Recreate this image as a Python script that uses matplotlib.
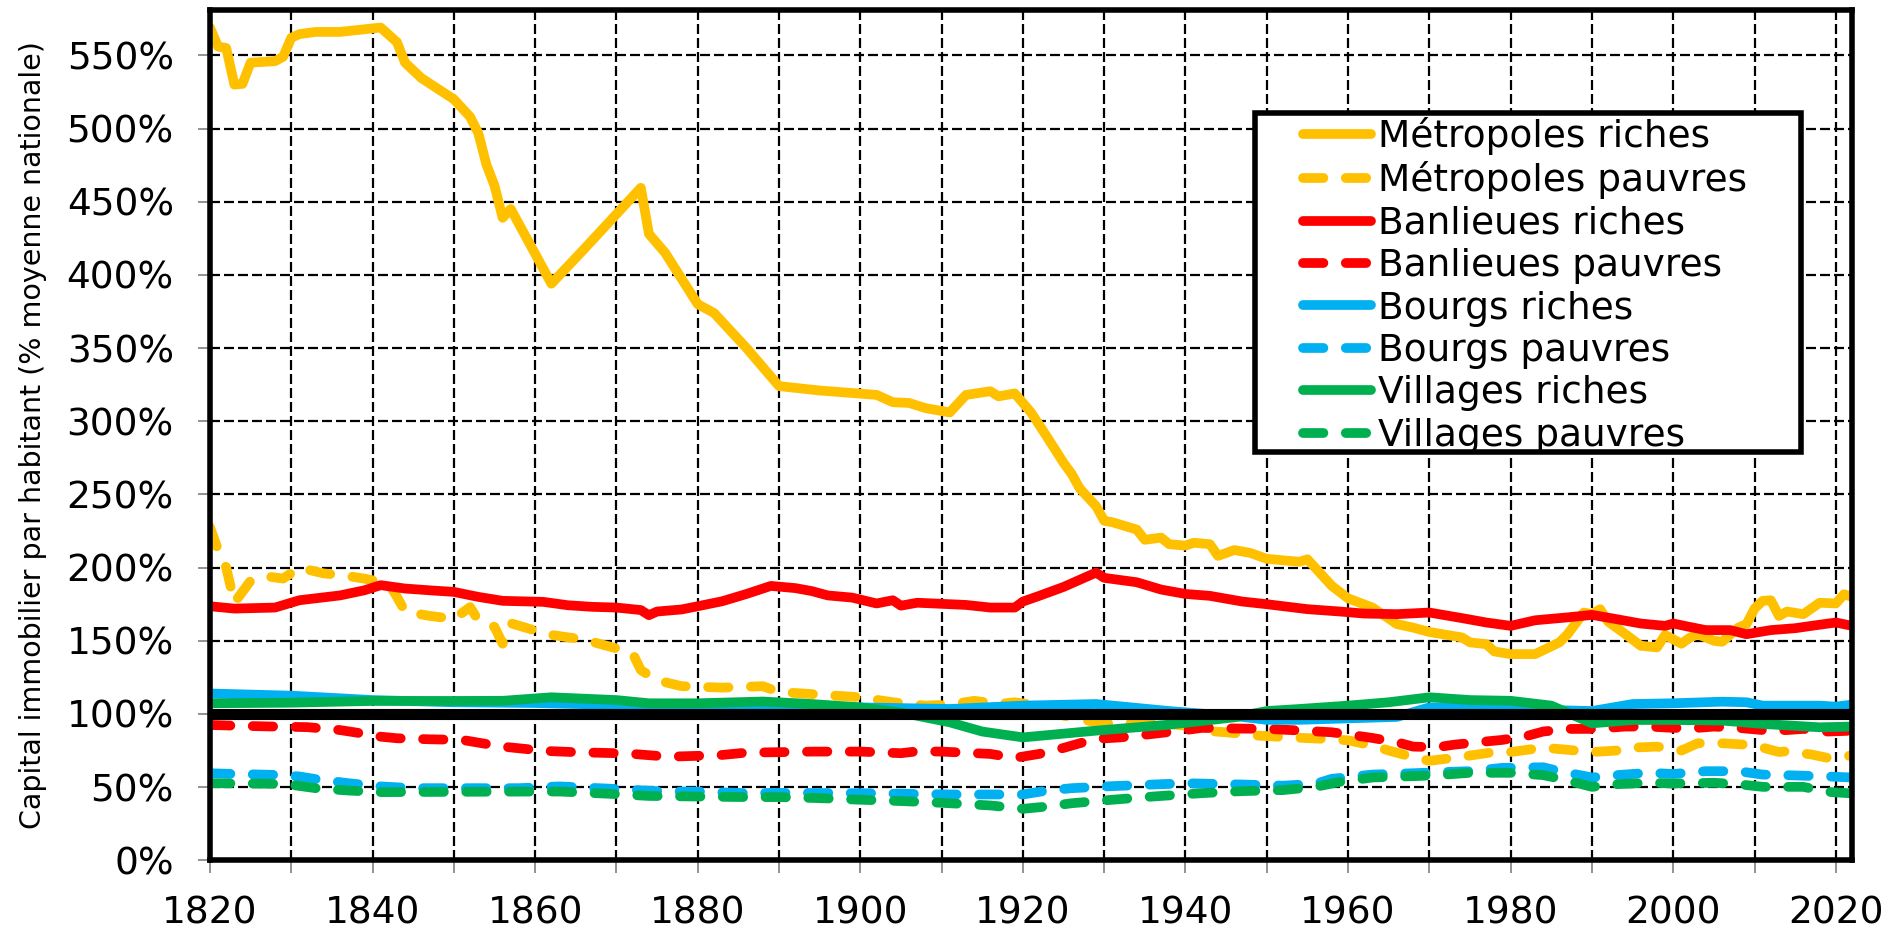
import matplotlib
matplotlib.use("Agg")
import matplotlib.pyplot as plt
from matplotlib.ticker import MultipleLocator, FuncFormatter
from matplotlib.patches import Rectangle

# Capital immobilier par habitant, % de la moyenne nationale
met_riches_years = [1820, 1821, 1822, 1823, 1824, 1825, 1828, 1829, 1830, 1831, 1833, 1836,
                    1841, 1843, 1844, 1846, 1850, 1851, 1852, 1853, 1854, 1855, 1856, 1857,
                    1862, 1866, 1873, 1874, 1876, 1880, 1882, 1886, 1890, 1895, 1902, 1904,
                    1906, 1908, 1911, 1913, 1916, 1917, 1919, 1921, 1923, 1925, 1926, 1927,
                    1929, 1930, 1931, 1934, 1935, 1937, 1938, 1940, 1941, 1943, 1944, 1946,
                    1948, 1950, 1954, 1955, 1958, 1960, 1963, 1966, 1968, 1970, 1974, 1975,
                    1977, 1978, 1980, 1983, 1986, 1987, 1989, 1990, 1991, 1992, 1994, 1996,
                    1998, 1999, 2001, 2002, 2003, 2005, 2006, 2008, 2009, 2010, 2011, 2012,
                    2013, 2014, 2016, 2018, 2020, 2021, 2022]
met_riches = [569, 556, 555, 530, 530.5, 545, 546, 549, 562, 564.5, 566, 566,
              569, 559, 545, 534.5, 520, 514, 508, 497, 475.5, 461, 439, 445,
              394, 417.5, 459.5, 428, 415, 380, 374, 350, 324, 321, 318, 313,
              312.5, 309, 306, 318, 320.5, 317, 319, 306, 289, 271.6, 264, 254,
              242, 232, 231, 226, 219, 220.5, 216, 215, 217, 216, 208, 212,
              210, 206, 204, 205.7, 187.5, 179, 172.7, 161.4, 159, 156, 152.3, 148.9,
              147.7, 142.7, 140.9, 140.9, 148.9, 154.5, 169.3, 168.2, 171.6, 163, 155, 146.6,
              145.5, 154, 148, 152, 154.5, 150, 149.3, 159, 161.4, 172, 177.3, 177.7,
              167, 170, 168.2, 176, 175.5, 181.8, 180]

met_pauvres_years = [1820, 1821, 1822, 1823, 1825, 1827, 1829, 1831, 1834, 1836, 1839, 1842,
                     1843, 1844, 1847, 1850, 1852, 1853, 1855, 1856, 1857, 1860, 1862, 1865,
                     1867, 1870, 1872, 1873, 1875, 1878, 1883, 1888, 1890, 1894, 1900, 1904,
                     1908, 1911, 1914, 1917, 1919, 1922, 1925, 1927, 1929, 1931, 1936, 1940,
                     1942, 1945, 1949, 1953, 1957, 1960, 1963, 1965, 1968, 1970, 1973, 1975,
                     1978, 1980, 1984, 1986, 1988, 1990, 1993, 1995, 1998, 2001, 2003, 2006,
                     2009, 2011, 2013, 2014, 2017, 2019, 2022]
met_pauvres = [227.7, 212, 200, 176, 191, 194, 192.5, 200, 196, 195, 192.5, 189,
               180, 170, 167, 165, 173, 164, 159.5, 148, 162, 157, 154, 151.6,
               149.3, 144.8, 141.4, 130, 123, 119, 118, 119, 115, 113.6, 111.4, 108,
               105.7, 106.4, 109, 106.8, 108, 105.7, 98.9, 96.6, 94.3, 93.2, 94.3, 92,
               88.6, 87.5, 85.2, 84, 83, 82, 78.4, 75, 70.5, 68, 70, 71.6,
               74, 74, 77, 76, 75, 74, 75, 77, 77.7, 75, 80, 80,
               79, 77, 74, 74.5, 72.3, 70, 71.6]

ban_riches_years = [1820, 1823, 1828, 1831, 1836, 1839, 1841, 1844, 1847, 1850, 1853, 1856,
                    1861, 1864, 1867, 1870, 1873, 1874, 1875, 1878, 1880, 1883, 1886, 1889,
                    1892, 1894, 1896, 1899, 1902, 1904, 1905, 1907, 1913, 1916, 1919, 1920,
                    1922, 1925, 1929, 1930, 1934, 1937, 1940, 1943, 1947, 1950, 1955, 1959,
                    1962, 1966, 1970, 1974, 1977, 1980, 1983, 1987, 1990, 1993, 1996, 1999,
                    2000, 2002, 2004, 2007, 2009, 2012, 2015, 2017, 2020, 2022]
ban_riches = [173.6, 172, 172.7, 177.7, 181, 184.5, 188, 185.7, 184.5, 183.4, 180, 177.3,
              176.6, 174.3, 173.2, 172.7, 171, 167.5, 170, 171.4, 173.6, 177, 182, 187.5,
              186, 184, 181, 179.5, 175.5, 177.7, 174, 176, 174.5, 172.7, 172.7, 176.8,
              180.7, 186.8, 196.6, 193, 190, 185, 182, 180.7, 176.8, 175, 171.6, 170,
              168.6, 168.2, 169.3, 165.5, 162.5, 160.2, 164, 166, 167.7, 164.8, 161.8, 160.2,
              161.8, 159.5, 157.3, 157.3, 154.5, 157.3, 158.6, 160.2, 162.5, 160.2]

ban_pauvres_years = [1820, 1823, 1828, 1832, 1836, 1838, 1841, 1843, 1847, 1851, 1854, 1856,
                     1859, 1861, 1865, 1870, 1872, 1875, 1877, 1880, 1883, 1886, 1890, 1894,
                     1900, 1905, 1907, 1910, 1916, 1919, 1922, 1925, 1927, 1929, 1932, 1936,
                     1940, 1942, 1947, 1950, 1953, 1958, 1961, 1963, 1966, 1968, 1971, 1973,
                     1976, 1979, 1982, 1984, 1987, 1990, 1992, 1994, 1997, 2000, 2003, 2005,
                     2008, 2011, 2014, 2016, 2019, 2022]
ban_pauvres = [92.5, 92, 91.4, 91, 89, 87.3, 84.5, 83.4, 82.7, 82.3, 79.5, 77.7,
               76, 74.8, 73.9, 73.2, 72.7, 71.4, 70.9, 71.4, 72, 73.6, 73.9, 74.3,
               74.3, 73.2, 74.5, 74.3, 72.7, 70, 72.7, 76.8, 80, 83, 84, 86.4,
               89, 90.5, 90, 89.8, 89, 87.5, 85.2, 83.6, 80.7, 77.7, 77.3, 79,
               80.7, 82.3, 85, 88, 89.8, 89.8, 90.5, 91.4, 91.4, 90.5, 90.5, 91.4,
               90.5, 89, 89, 89.8, 88, 88.6]

bourgs_riches_years = [1820, 1830, 1840, 1850, 1860, 1874, 1880, 1885, 1900, 1911, 1920, 1929,
                       1938, 1947, 1950, 1954, 1960, 1966, 1970, 1980, 1990, 1995, 2000, 2006,
                       2009, 2011, 2018, 2020, 2022]
bourgs_riches = [114, 112.5, 109.5, 108, 107.5, 105.7, 105, 105.5, 104.5, 103.4, 105.7, 106.8,
                 102, 98, 96, 96, 97, 98, 104.5, 103.4, 102, 106.8, 107.3, 108.4,
                 108, 105.7, 105.7, 105, 106.4]

bourgs_pauvres_years = [1820, 1823, 1828, 1831, 1833, 1837, 1841, 1845, 1858, 1863, 1869, 1876,
                        1880, 1886, 1890, 1900, 1911, 1920, 1923, 1926, 1931, 1936, 1940, 1947,
                        1952, 1956, 1958, 1963, 1968, 1971, 1975, 1979, 1984, 1986, 1990, 1993,
                        1997, 2000, 2004, 2008, 2011, 2015, 2019, 2022]
bourgs_pauvres = [59.5, 59, 58.4, 57.3, 55.5, 52.7, 50.5, 49.3, 49.3, 50.5, 49, 47,
                  47, 45.9, 46.1, 45.9, 45, 45, 47.7, 49.3, 50.7, 51.8, 52.7, 51.8,
                  51, 52.3, 55.7, 58.6, 59.5, 60.2, 60.9, 63.2, 63.6, 60.9, 56.6, 58.2,
                  59.8, 59, 60.9, 60.9, 58.6, 58, 57.3, 56.6]

villages_riches_years = [1820, 1830, 1840, 1850, 1856, 1862, 1870, 1874, 1880, 1888, 1894, 1900,
                         1905, 1911, 1915, 1920, 1929, 1938, 1946, 1950, 1954, 1960, 1965, 1970,
                         1975, 1980, 1985, 1990, 1995, 2000, 2006, 2011, 2018, 2022]
villages_riches = [107.3, 107.7, 108.9, 108.9, 109, 111.4, 109.5, 107.3, 107.3, 108.5, 106.8, 104.5,
                   101, 94.3, 88, 84, 88.6, 92.7, 97.7, 102, 103.4, 105.7, 108, 111.4,
                   109.5, 109, 105.7, 93.6, 95.9, 95.9, 95.5, 93.2, 90.9, 91.4]

villages_pauvres_years = [1820, 1828, 1830, 1833, 1837, 1841, 1850, 1860, 1863, 1869, 1874, 1880,
                          1886, 1890, 1895, 1900, 1905, 1910, 1916, 1920, 1923, 1926, 1931, 1936,
                          1942, 1947, 1952, 1956, 1959, 1963, 1968, 1971, 1975, 1980, 1984, 1986,
                          1990, 1993, 1997, 2000, 2005, 2008, 2011, 2016, 2019, 2022]
villages_pauvres = [52.7, 52.3, 51.6, 49.3, 47.7, 46.6, 46.8, 47, 47, 45.5, 44, 43.6,
                    43.2, 43.2, 42.5, 41.4, 40.5, 39.3, 37.5, 35.2, 36.8, 39, 41.4, 43.6,
                    45.9, 47.3, 48, 50.2, 53.6, 56.6, 57.5, 58.2, 59.8, 59.8, 58.2, 55.9,
                    50.2, 52, 53, 52.5, 53, 52, 50.2, 50.2, 46.8, 45.7]

YELLOW = "#FFC000"
RED = "#FF0000"
BLUE = "#00B0F0"
GREEN = "#00B050"

LW = 7
DASH = (2.1, 2.3)

fig = plt.figure(figsize=(19, 9.31), dpi=100)
ax = fig.add_axes([0.1105, 0.0759, 0.8643, 0.9134])

series = [
    (met_riches_years, met_riches, YELLOW, False, "Métropoles riches"),
    (met_pauvres_years, met_pauvres, YELLOW, True, "Métropoles pauvres"),
    (ban_riches_years, ban_riches, RED, False, "Banlieues riches"),
    (ban_pauvres_years, ban_pauvres, RED, True, "Banlieues pauvres"),
    (bourgs_riches_years, bourgs_riches, BLUE, False, "Bourgs riches"),
    (bourgs_pauvres_years, bourgs_pauvres, BLUE, True, "Bourgs pauvres"),
    (villages_riches_years, villages_riches, GREEN, False, "Villages riches"),
    (villages_pauvres_years, villages_pauvres, GREEN, True, "Villages pauvres"),
]

handles = []
for years, vals, color, dashed, label in series:
    line, = ax.plot(years, vals, color=color, lw=LW, label=label,
                    solid_capstyle="round", dash_capstyle="round",
                    solid_joinstyle="round", zorder=2)
    if dashed:
        line.set_dashes(DASH)
    handles.append(line)

# national average reference
ax.axhline(100, color="black", lw=8, zorder=3)

ax.set_xlim(1820, 2022)
ax.set_ylim(0, 581)
ax.xaxis.set_major_locator(MultipleLocator(20))
ax.xaxis.set_minor_locator(MultipleLocator(10))
ax.yaxis.set_major_locator(MultipleLocator(50))
ax.yaxis.set_major_formatter(FuncFormatter(lambda v, p: f"{v:.0f}%"))

ax.set_axisbelow(True)
grid_style = dict(color="black", lw=1.6, linestyle=(0, (4.5, 1.8)))
ax.xaxis.grid(True, which="both", **grid_style)
ax.yaxis.grid(True, which="major", **grid_style)

ax.tick_params(axis="both", which="both", direction="out", length=9, width=1.2,
               color="#808080", labelsize=27)
ax.tick_params(axis="x", which="both", pad=16)
ax.tick_params(axis="y", pad=17)

for sp in ax.spines.values():
    sp.set_linewidth(4)
    sp.set_color("black")
    sp.set_zorder(6)

ax.set_ylabel("Capital immobilier par habitant (% moyenne nationale)", fontsize=20.5)
ax.yaxis.set_label_coords(-0.099, 0.5)

# legend box drawn separately so its padding matches the original
ax.add_patch(Rectangle((0.6364, 0.4805), 0.3325, 0.398, transform=ax.transAxes,
                       facecolor="white", edgecolor="black", lw=4, zorder=4.5))
ax.legend(handles=handles, loc="upper left", bbox_to_anchor=(0.6657, 0.874),
          frameon=False, fontsize=27, borderpad=0, borderaxespad=0,
          handlelength=1.8, handletextpad=0.2, labelspacing=0.17)

fig.savefig("out.png", dpi=100)
